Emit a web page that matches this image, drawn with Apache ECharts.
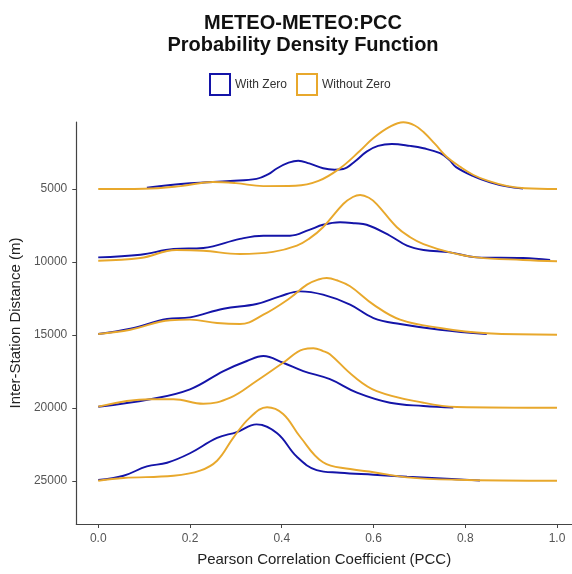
<!DOCTYPE html>
<html>
<head>
<meta charset="utf-8">
<script src="https://cdn.jsdelivr.net/npm/echarts@6/dist/echarts.min.js"></script>
<style>
  html, body { margin: 0; padding: 0; background: #fff; }
  #chart { width: 572px; height: 574px; }
</style>
</head>
<body>
<div id="chart"></div>
<script>
// ridge baselines (Inter-Station Distance, m)
var baselines = [5000, 10000, 15000, 20000, 25000];
var xTicks = [0, 0.2, 0.4, 0.6, 0.8, 1.0];

// density heights as [PCC, height in axis units]
var withZero5000 = [[0.106,90],[0.2,390],[0.288,550],[0.345,690],[0.37,1000],[0.39,1420],[0.415,1800],[0.436,1940],[0.46,1750],[0.49,1420],[0.515,1320],[0.534,1370],[0.56,1900],[0.585,2560],[0.61,2950],[0.64,3080],[0.68,2950],[0.709,2790],[0.745,2450],[0.765,2000],[0.78,1500],[0.82,850],[0.854,460],[0.89,180],[0.926,30]];
var withoutZero5000 = [[0,0],[0.1,20],[0.18,200],[0.25,480],[0.30,400],[0.36,200],[0.43,220],[0.48,550],[0.527,1420],[0.57,2600],[0.60,3490],[0.635,4250],[0.665,4570],[0.69,4350],[0.709,3900],[0.735,3050],[0.76,2190],[0.79,1500],[0.818,960],[0.85,550],[0.89,210],[0.93,50],[1.0,0]];

var withZero10000 = [[0,320],[0.092,500],[0.164,890],[0.229,960],[0.309,1580],[0.36,1800],[0.418,1800],[0.46,2200],[0.49,2550],[0.527,2720],[0.56,2650],[0.585,2550],[0.636,1800],[0.673,1120],[0.709,820],[0.767,660],[0.825,320],[0.926,270],[0.985,140]];
var withoutZero10000 = [[0,90],[0.092,270],[0.17,820],[0.229,770],[0.309,550],[0.381,690],[0.433,1120],[0.46,1600],[0.49,2380],[0.534,3970],[0.555,4450],[0.571,4590],[0.59,4400],[0.607,3970],[0.651,2380],[0.68,1700],[0.709,1230],[0.767,660],[0.825,320],[0.926,140],[1.0,50]];

var withZero15000 = [[0,70],[0.07,430],[0.15,1100],[0.2,1210],[0.273,1800],[0.345,2120],[0.396,2650],[0.44,2990],[0.49,2760],[0.549,2080],[0.6,1160],[0.658,750],[0.745,360],[0.847,70]];
var withoutZero15000 = [[0,70],[0.07,360],[0.157,1010],[0.2,1050],[0.259,820],[0.309,750],[0.36,1390],[0.418,2530],[0.455,3450],[0.48,3800],[0.498,3900],[0.52,3750],[0.549,3340],[0.6,2080],[0.658,1050],[0.745,480],[0.847,120],[1.0,20]];

var withZero20000 = [[0,90],[0.113,600],[0.2,1280],[0.273,2530],[0.324,3220],[0.36,3560],[0.403,3100],[0.447,2530],[0.505,1970],[0.564,1050],[0.636,360],[0.709,140],[0.774,30]];
var withoutZero20000 = [[0,90],[0.113,600],[0.164,600],[0.229,290],[0.288,710],[0.345,1850],[0.403,3100],[0.447,4020],[0.469,4090],[0.49,3900],[0.505,3680],[0.556,2190],[0.607,1160],[0.709,360],[0.781,70],[1.0,20]];

var withZero25000 = [[0,70],[0.055,360],[0.106,1000],[0.15,1250],[0.2,1900],[0.259,2950],[0.302,3350],[0.345,3880],[0.39,3270],[0.433,1660],[0.476,750],[0.527,570],[0.6,430],[0.673,290],[0.781,120],[0.832,30]];
var withoutZero25000 = [[0,20],[0.055,210],[0.164,360],[0.222,710],[0.259,1390],[0.295,2990],[0.331,4360],[0.368,5050],[0.403,4590],[0.44,3030],[0.49,1280],[0.549,820],[0.6,600],[0.673,250],[0.781,90],[1.0,20]];

var withZero = [withZero5000, withZero10000, withZero15000, withZero20000, withZero25000];
var withoutZero = [withoutZero5000, withoutZero10000, withoutZero15000, withoutZero20000, withoutZero25000];

var blue = '#1414a8';
var orange = '#e8a82c';

function ridge(name, pts, base, color) {
  return {
    name: name,
    type: 'line',
    smooth: 0.4,
    showSymbol: false,
    silent: true,
    lineStyle: { color: color, width: 1.9 },
    itemStyle: { color: color },
    data: pts.map(function (p) { return [p[0], base - p[1]]; })
  };
}

var series = [];
baselines.forEach(function (b, i) {
  series.push(ridge('With Zero', withZero[i], b, blue));
  series.push(ridge('Without Zero', withoutZero[i], b, orange));
});

var chart = echarts.init(document.getElementById('chart'));
chart.setOption({
  animation: false,
  backgroundColor: '#fff',
  textStyle: { fontFamily: '"Liberation Sans", Arial, sans-serif' },
  title: {
    text: 'METEO-METEO:PCC\nProbability Density Function',
    left: 298,
    top: 7,
    textAlign: 'center',
    textStyle: { fontSize: 20, fontWeight: 'bold', color: '#111', lineHeight: 22 }
  },
  legend: {
    data: [
      { name: 'With Zero', itemStyle: { color: '#fff', borderColor: blue, borderWidth: 2 } },
      { name: 'Without Zero', itemStyle: { color: '#fff', borderColor: orange, borderWidth: 2 } }
    ],
    top: 68,
    left: 204,
    icon: 'rect',
    itemWidth: 20,
    itemHeight: 21,
    itemGap: 9,
    textStyle: { fontSize: 12, color: '#333' }
  },
  grid: { left: 76, right: 0, top: 122, bottom: 50 },
  xAxis: {
    type: 'value',
    min: -0.0479,
    max: 1.0327,
    name: 'Pearson Correlation Coefficient (PCC)',
    nameLocation: 'middle',
    nameGap: 28,
    nameTextStyle: { fontSize: 15, color: '#222' },
    splitLine: { show: false },
    axisLine: { onZero: false, lineStyle: { color: '#444', width: 1.2 } },
    axisTick: { show: true, length: 4, lineStyle: { color: '#444' }, customValues: xTicks },
    axisLabel: { color: '#555', fontSize: 12, margin: 9, customValues: xTicks,
      formatter: function (v) { return v.toFixed(1); } }
  },
  yAxis: {
    type: 'value',
    inverse: true,
    min: 411,
    max: 27945,
    name: 'Inter-Station Distance (m)',
    nameLocation: 'middle',
    nameGap: 46,
    nameRotate: 90,
    nameTextStyle: { fontSize: 15, color: '#222' },
    splitLine: { show: false },
    axisLine: { show: true, onZero: false, lineStyle: { color: '#444', width: 1.2 } },
    axisTick: { show: true, length: 4, lineStyle: { color: '#444' }, customValues: baselines },
    axisLabel: { color: '#555', fontSize: 12, margin: 9, customValues: baselines,
      formatter: function (v) { return String(v); } }
  },
  series: series
});
</script>
</body>
</html>
